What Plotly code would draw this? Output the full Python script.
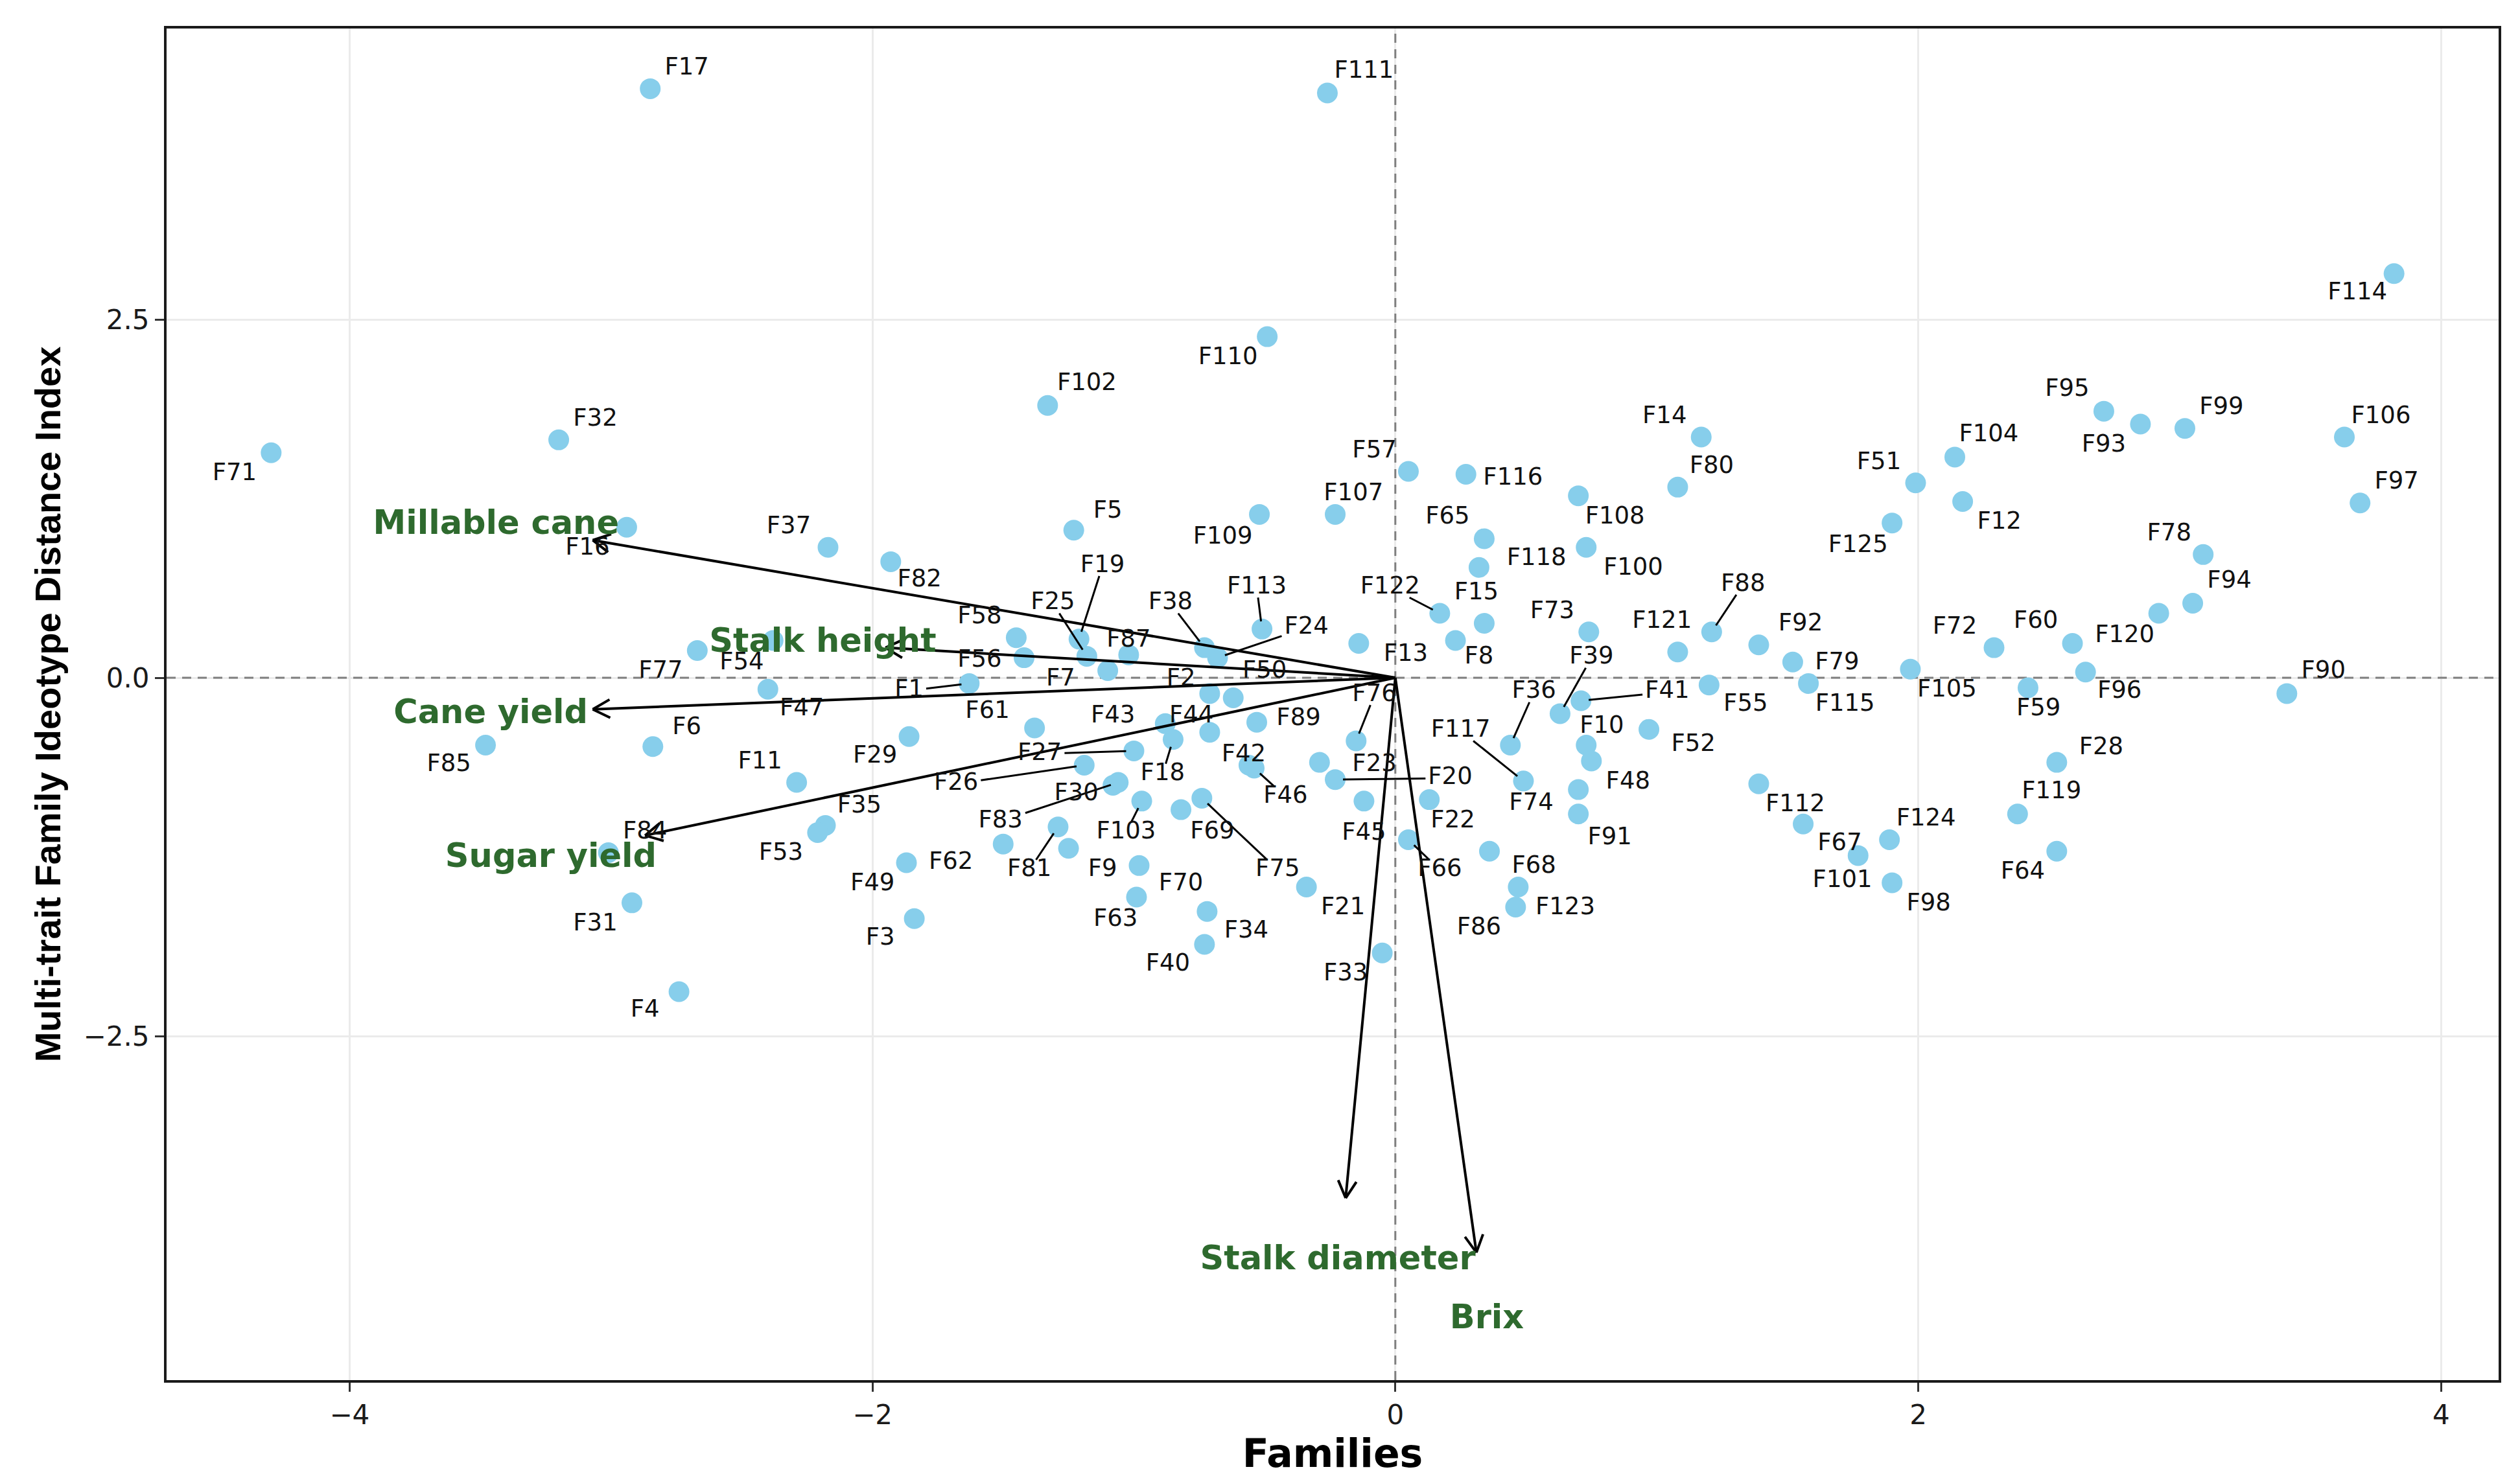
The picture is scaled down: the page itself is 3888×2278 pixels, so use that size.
import math
import plotly.graph_objects as go

# family scores (F1 ... F125)
families = [f"F{i}" for i in range(1, 126)]

fam_x = [-1.63, -0.71, -1.84, -2.74, -1.23, -2.84, -1.10, 0.23, -1.25, 0.73,
         -2.29, 2.17, -0.14, 1.17, 0.34, -2.94, -2.85, -0.85, -1.21, -0.23,
         -0.34, 0.13, -0.29, -0.68, -1.18, -1.19, -1.00, 2.53, -1.86, -1.08,
         -2.92, -3.20, -0.05, -0.72, -2.18, 0.44, -2.17, -0.73, 0.63, -0.73,
         0.71, -0.56, -0.88, -0.71, -0.12, -0.54, -2.40, 0.75, -1.87, -0.62,
         1.99, 0.97, -2.21, -2.38, 1.20, -1.42, 0.05, -1.45, 2.42, 2.59,
         -1.38, -1.50, -0.99, 2.53, 0.34, 0.05, 1.56, 0.36, -0.82, -0.98,
         -4.30, 2.29, 0.74, 0.70, -0.74, -0.15, -2.67, 3.09, 1.52, 1.08,
         -1.29, -1.93, -1.06, -3.01, -3.48, 0.46, -1.02, 1.21, -0.53, 3.41,
         0.70, 1.39, 2.85, 3.05, 2.71, 2.64, 3.69, 1.90, 3.02, 0.73,
         1.77, -1.33, -0.97, 2.14, 1.97, 3.63, -0.23, 0.70, -0.52, -0.49,
         -0.26, 1.39, -0.51, 3.82, 1.58, 0.27, 0.49, 0.32, 2.38, 2.92,
         1.08, 0.17, 0.47, 1.89, 1.90]

fam_y = [-0.04, -0.11, -1.68, -2.19, 1.03, -0.48, 0.05, 0.26, -1.19, -0.47,
         -0.73, 1.23, 0.24, 1.68, 0.38, 1.05, 4.11, -0.43, 0.27, -0.71,
         -1.46, -0.85, -0.59, 0.14, 0.15, -0.61, -0.51, -0.59, -0.41, -0.75,
         -1.57, 1.66, -1.92, -1.63, -1.03, -0.47, 0.91, 0.21, -0.25, -1.86,
         -0.16, -0.61, -0.32, -0.38, -0.86, -0.63, -0.08, -0.58, -1.29, -0.14,
         1.36, -0.36, -1.08, 0.26, -0.05, 0.14, 1.44, 0.28, -0.07, 0.24,
         -0.35, -1.16, -1.53, -1.21, 0.97, -1.13, -1.02, -1.21, -0.92, -1.31,
         1.57, 0.21, 0.32, -0.78, -0.84, -0.44, 0.19, 0.86, 0.11, 1.33,
         -1.04, 0.81, -0.73, -1.22, -0.47, -1.60, 0.16, 0.32, -0.31, -0.11,
         -0.95, 0.23, 1.77, 0.52, 1.86, 0.04, 1.22, -1.43, 1.74, 0.91,
         -1.24, 1.90, -0.86, 1.54, 0.06, 1.68, 1.14, 1.27, 1.14, 2.38,
         4.08, -0.74, 0.34, 2.82, -0.04, 1.42, -0.72, 0.77, -0.95, 0.45,
         0.18, 0.45, -1.46, -1.13, 1.08]

# trait loadings (arrow tips)
traits = ["Millable cane", "Stalk height", "Cane yield", "Sugar yield",
          "Stalk diameter", "Brix"]
trait_x = [-3.07, -1.95, -3.07, -2.87, -0.19, 0.31]
trait_y = [0.96, 0.21, -0.22, -1.10, -3.63, -4.01]

# where the repelled labels ended up (same order as families)
label_x = [-1.86, -0.82, -1.97, -2.87, -1.10, -2.71, -1.28, 0.32, -1.12, 0.79,
           -2.43, 2.31, 0.04, 1.03, 0.31, -3.09, -2.71, -0.89, -1.12, 0.21,
           -0.20, 0.22, -0.08, -0.34, -1.31, -1.68, -1.36, 2.70, -1.99, -1.22,
           -3.06, -3.06, -0.19, -0.57, -2.05, 0.53, -2.32, -0.86, 0.75, -0.87,
           1.04, -0.58, -1.08, -0.78, -0.12, -0.42, -2.27, 0.89, -2.00, -0.50,
           1.85, 1.14, -2.35, -2.50, 1.34, -1.59, -0.08, -1.59, 2.46, 2.45,
           -1.56, -1.70, -1.07, 2.40, 0.20, 0.17, 1.70, 0.53, -0.70, -0.82,
           -4.44, 2.14, 0.60, 0.52, -0.45, -0.08, -2.81, 2.96, 1.69, 1.21,
           -1.40, -1.82, -1.51, -2.87, -3.62, 0.32, -1.02, 1.33, -0.37, 3.55,
           0.82, 1.55, 2.71, 3.19, 2.57, 2.77, 3.83, 2.04, 3.16, 0.91,
           1.71, -1.18, -1.03, 2.27, 2.11, 3.77, -0.16, 0.84, -0.66, -0.64,
           -0.12, 1.53, -0.53, 3.68, 1.72, 0.45, 0.25, 0.54, 2.51, 2.79,
           1.02, -0.02, 0.65, 2.03, 1.77]
label_y = [-0.09, -0.01, -1.82, -2.32, 1.16, -0.35, -0.01, 0.14, -1.34, -0.34,
           -0.59, 1.08, 0.16, 1.82, 0.59, 0.90, 4.25, -0.67, 0.78, -0.70,
           -1.61, -1.00, -0.61, 0.35, 0.52, -0.74, -0.53, -0.49, -0.55, -0.81,
           -1.72, 1.80, -2.07, -1.77, -0.90, -0.10, 1.05, 0.52, 0.14, -2.00,
           -0.10, -0.54, -0.27, -0.27, -1.09, -0.83, -0.22, -0.73, -1.44, 0.04,
           1.50, -0.47, -1.23, 0.10, -0.19, 0.12, 1.58, 0.42, -0.22, 0.39,
           -0.24, -1.29, -1.69, -1.36, 1.12, -1.34, -1.16, -1.32, -1.08, -1.44,
           1.42, 0.35, 0.46, -0.88, -1.34, -0.12, 0.04, 1.00, 0.10, 1.47,
           -1.34, 0.68, -1.00, -1.08, -0.61, -1.75, 0.26, 0.65, -0.29, 0.04,
           -1.12, 0.37, 1.62, 0.67, 2.01, -0.10, 1.36, -1.58, 1.88, 0.76,
           -1.42, 2.05, -1.08, 1.69, -0.09, 1.82, 1.28, 1.12, 0.98, 2.23,
           4.23, -0.89, 0.63, 2.68, -0.19, 1.39, -0.37, 0.83, -0.80, 0.29,
           0.39, 0.63, -1.61, -0.99, 0.92]
leaders = {"F1", "F18", "F19", "F20", "F24", "F25", "F26", "F27", "F36", "F38",
           "F39", "F41", "F46", "F66", "F75", "F76", "F81", "F83", "F88",
           "F103", "F113", "F117", "F122"}

trait_label_x = [-3.44, -2.19, -3.46, -3.23, -0.22, 0.35]
trait_label_y = [1.06, 0.24, -0.26, -1.26, -4.07, -4.48]

# page geometry
W, H = 3888, 2278
ML, MR, MT, MB = 249, 41, 36, 156
x_range = [-4.70, 4.22]
y_range = [-4.90, 4.53]
sx = (W - ML - MR) / (x_range[1] - x_range[0])
sy = (H - MT - MB) / (y_range[1] - y_range[0])

LABEL_FS = 37
GREEN = "#2e6a2e"

fig = go.Figure()

# dashed reference lines through the origin
fig.add_trace(go.Scatter(x=[0, 0], y=y_range, mode="lines", hoverinfo="skip",
                         line=dict(color="#7f7f7f", width=3, dash="14px,10px")))
fig.add_trace(go.Scatter(x=x_range, y=[0, 0], mode="lines", hoverinfo="skip",
                         line=dict(color="#7f7f7f", width=3, dash="14px,10px")))

# family points
fig.add_trace(go.Scatter(x=fam_x, y=fam_y, mode="markers", text=families,
                         marker=dict(size=32, color="#87ceeb", line=dict(width=0))))

# trait arrows with open heads (head drawn in pixel space so it keeps its shape)
ax, ay = [], []
head = 30
ang = math.radians(28)
for tx, ty in zip(trait_x, trait_y):
    ax += [0, tx, None]
    ay += [0, ty, None]
    px, py = tx * sx, ty * sy
    n = math.hypot(px, py)
    ux, uy = px / n, py / n
    for s in (1, -1):
        c, si = math.cos(s * ang), math.sin(s * ang)
        bx = -(ux * c - uy * si) * head
        by = -(ux * si + uy * c) * head
        ax += [tx + bx / sx, tx, None]
        ay += [ty + by / sy, ty, None]
fig.add_trace(go.Scatter(x=ax, y=ay, mode="lines", hoverinfo="skip",
                         line=dict(color="black", width=4)))

# label leader segments (from label box edge to the point)
sgx, sgy = [], []
for name, x, y, lx, ly in zip(families, fam_x, fam_y, label_x, label_y):
    if name not in leaders:
        continue
    dx, dy = (x - lx) * sx, (y - ly) * sy
    d = math.hypot(dx, dy)
    hw = (0.575 + 0.636 * (len(name) - 1)) * LABEL_FS / 2 + 4
    hh = LABEL_FS * 0.42
    t = min(hw / abs(dx) if dx else 1e9, hh / abs(dy) if dy else 1e9)
    t = min(t, 1.0)
    sxp, syp = lx + dx * t / sx, ly + dy * t / sy
    ex, ey = x - dx / d * 12 / sx, y - dy / d * 12 / sy
    sgx += [sxp, ex, None]
    sgy += [syp, ey, None]
fig.add_trace(go.Scatter(x=sgx, y=sgy, mode="lines", hoverinfo="skip",
                         line=dict(color="black", width=3)))

# family labels
fig.add_trace(go.Scatter(x=label_x, y=label_y, mode="text", text=families,
                         textposition="middle center", hoverinfo="skip",
                         textfont=dict(family="DejaVu Sans", size=LABEL_FS, color="#111111")))

# trait labels
fig.add_trace(go.Scatter(x=trait_label_x, y=trait_label_y, mode="text", text=traits,
                         textposition="middle center", hoverinfo="skip",
                         textfont=dict(family="DejaVu Sans", size=51, color=GREEN,
                                       weight="bold")))

axis_common = dict(
    showgrid=True, gridcolor="#ebebeb", gridwidth=3, zeroline=False,
    showline=True, mirror=True, linecolor="#1a1a1a", linewidth=4,
    ticks="outside", ticklen=14, tickwidth=3, tickcolor="#333333",
    tickfont=dict(family="DejaVu Sans", size=42, color="#1a1a1a"),
)

fig.update_layout(
    width=W, height=H,
    margin=dict(l=ML, r=MR, t=MT, b=MB),
    paper_bgcolor="white", plot_bgcolor="white",
    showlegend=False,
    xaxis=dict(range=x_range, tickvals=[-4, -2, 0, 2, 4],
               title=dict(text="<b>Families</b>", standoff=10,
                          font=dict(family="DejaVu Sans", size=60, color="black")),
               **axis_common),
    yaxis=dict(range=y_range, tickvals=[-2.5, 0, 2.5], tickformat=".1f",
               title=dict(text="<b>Multi-trait Family Ideotype Distance Index</b>",
                          standoff=18,
                          font=dict(family="Liberation Sans", size=56, color="black")),
               **axis_common),
)

fig.write_html("out.html")
